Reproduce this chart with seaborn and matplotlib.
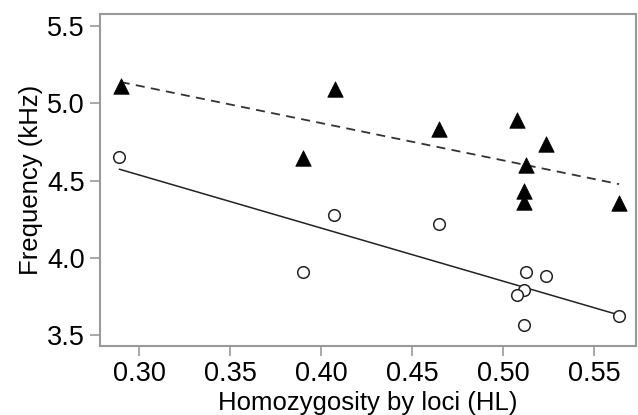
import numpy as np
import pandas as pd
import matplotlib
matplotlib.use('Agg')
import matplotlib.pyplot as plt
import seaborn as sns

# Values
hl_tri = [0.290, 0.4075, 0.390, 0.465, 0.5077, 0.5238, 0.5128, 0.5115, 0.5115, 0.5637]
freq_tri = [5.115, 5.090, 4.646, 4.834, 4.892, 4.739, 4.603, 4.433, 4.360, 4.357]

hl_circ = [0.2892, 0.390, 0.4071, 0.465, 0.5128, 0.5238, 0.5115, 0.5075, 0.5115, 0.5637]
freq_circ = [4.651, 3.907, 4.277, 4.219, 3.907, 3.885, 3.792, 3.756, 3.566, 3.620]

x_ticks = [0.30, 0.35, 0.40, 0.45, 0.50, 0.55]
y_ticks = [3.5, 4.0, 4.5, 5.0, 5.5]

tri_df = pd.DataFrame({'hl': hl_tri, 'freq': freq_tri})
circ_df = pd.DataFrame({'hl': hl_circ, 'freq': freq_circ})

sns.set_style('white')
plt.rcParams['font.family'] = ['Liberation Sans', 'DejaVu Sans']
plt.rcParams['text.color'] = 'black'
plt.rcParams['axes.labelcolor'] = 'black'
plt.rcParams['xtick.color'] = 'black'
plt.rcParams['ytick.color'] = 'black'

fig = plt.figure(figsize=(6.38, 4.15), dpi=100)
ax = fig.add_axes([100 / 638, 69 / 415, 536 / 638, 332 / 415])

# regression lines
sns.regplot(data=tri_df, x='hl', y='freq', ax=ax, scatter=False, ci=None,
            line_kws={'color': '#333333', 'lw': 1.3, 'ls': (0, (5, 3.5))})
sns.regplot(data=circ_df, x='hl', y='freq', ax=ax, scatter=False, ci=None,
            line_kws={'color': '#222222', 'lw': 1.1})

# points
sns.scatterplot(data=tri_df, x='hl', y='freq', ax=ax, marker='^', s=125,
                color='black', edgecolor='black', linewidth=0.5, zorder=3)
sns.scatterplot(data=circ_df, x='hl', y='freq', ax=ax, marker='o', s=70,
                facecolor='white', edgecolor='#222222', linewidth=1.1, zorder=3)

ax.set_xlim(0.2786, 0.573)
ax.set_ylim(3.429, 5.578)
ax.set_xticks(x_ticks)
ax.set_xticklabels([f'{v:.2f}' for v in x_ticks])
ax.set_yticks(y_ticks)
ax.set_yticklabels([f'{v:.1f}' for v in y_ticks])

for sp in ax.spines.values():
    sp.set_color('#999999')
    sp.set_linewidth(1.5)
ax.tick_params(axis='both', which='major', direction='out', length=7, width=1.2,
               color='#999999', labelcolor='black', labelsize=19.5, pad=4,
               left=True, bottom=True)

ax.set_xlabel('Homozygosity by loci (HL)', fontsize=18.5, labelpad=3)
ax.set_ylabel('Frequency (kHz)', fontsize=18.5, labelpad=3)

plt.savefig('out.png', dpi=100)
